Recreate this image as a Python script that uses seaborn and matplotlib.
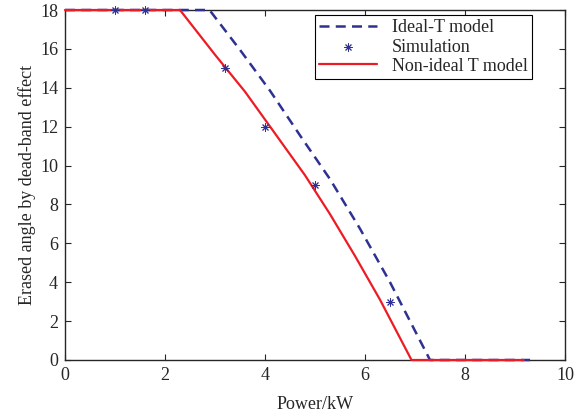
import matplotlib
matplotlib.use("Agg")
import matplotlib.pyplot as plt
import seaborn as sns
import pandas as pd

# Data
ideal_x = [0, 2.89, 3.5, 4.1, 4.7, 5.3, 5.9, 6.5, 7.3, 9.3]
ideal_y = [18, 18, 15.95, 13.85, 11.55, 9.3, 6.75, 4.0, 0, 0]
sim_x = [1.0, 1.6, 3.2, 4.0, 5.0, 6.5]
sim_y = [18, 18, 15, 12, 9, 3]
nonideal_x = [0, 2.3, 3.0, 3.6, 4.2, 4.8, 5.3, 5.8, 6.3, 6.93, 9.17]
nonideal_y = [18, 18, 15.7, 13.8, 11.65, 9.5, 7.5, 5.35, 3.1, 0, 0]

xticks = [0, 2, 4, 6, 8, 10]
yticks = [0, 2, 4, 6, 8, 10, 12, 14, 16, 18]

sns.set_style("ticks")
plt.rcParams['font.family'] = ['Liberation Serif', 'DejaVu Serif']

fig = plt.figure(figsize=(5.84, 4.17), dpi=100)
ax = fig.add_axes([0.1113, 0.1367, 0.8562, 0.8393])

blue = "#2E3192"
red = "#ED1C24"

df_i = pd.DataFrame({"x": ideal_x, "y": ideal_y})
df_n = pd.DataFrame({"x": nonideal_x, "y": nonideal_y})
df_s = pd.DataFrame({"x": sim_x, "y": sim_y})

sns.lineplot(data=df_i, x="x", y="y", ax=ax, color=blue, linestyle=(0, (4, 2.5)),
             linewidth=1.8, label="Ideal-T model", sort=False, estimator=None,
             zorder=3, clip_on=False)
sns.scatterplot(data=df_s, x="x", y="y", ax=ax, marker=(8, 2, 0), s=28,
                color=blue, edgecolor=blue, linewidth=0.7, label="Simulation",
                zorder=4, clip_on=False)
sns.lineplot(data=df_n, x="x", y="y", ax=ax, color=red, linewidth=1.6,
             label="Non-ideal T model", sort=False, estimator=None,
             zorder=3.5, clip_on=False)

ax.set_xlim(0, 10)
ax.set_ylim(0, 18)
ax.set_xticks(xticks)
ax.set_yticks(yticks)
ax.tick_params(direction="in", top=True, right=True, labelsize=13, length=4,
               width=0.8, pad=5)
for s in ax.spines.values():
    s.set_linewidth(1.0)
    s.set_visible(True)
ax.set_xlabel("Power/kW", fontsize=13, labelpad=9)
ax.set_ylabel("Erased angle by dead-band effect", fontsize=13, labelpad=3)

leg = ax.legend(loc="upper right", bbox_to_anchor=(0.934, 0.986), fontsize=13,
                frameon=True, fancybox=False, edgecolor="black", framealpha=1,
                borderpad=0.25, labelspacing=0.12, handlelength=3.2,
                handletextpad=0.8, borderaxespad=0)
leg.get_frame().set_linewidth(0.8)

fig.savefig("out.png", dpi=100)
